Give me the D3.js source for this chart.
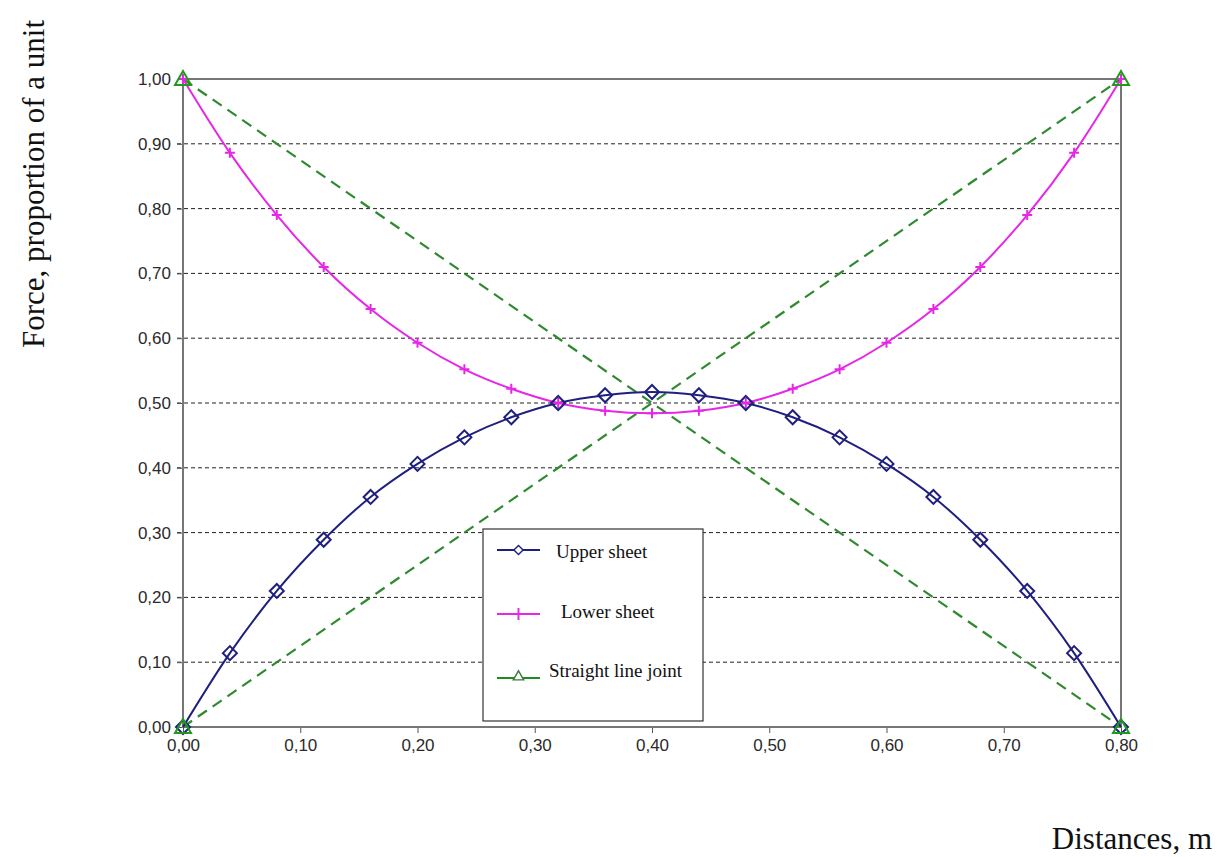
<!DOCTYPE html>
<html>
<head>
<meta charset="utf-8">
<style>
    body { margin: 0; background: #fff; }
    svg { display: block; }
    .tick text { font-family: Arial, "Liberation Sans", sans-serif; font-size: 17px; fill: #2a2a2a; }
    .axis .domain { display: none; }
    .serif { font-family: "Times New Roman", "Liberation Serif", serif; fill: #111; }
</style>
</head>
<body>
<svg width="1219" height="857"></svg>
<script src="https://d3js.org/d3.v7.min.js"></script>
<script>
// distances along the joint, m
let distances = [0, 0.04, 0.08, 0.12, 0.16, 0.20, 0.24, 0.28, 0.32, 0.36, 0.40,
                 0.44, 0.48, 0.52, 0.56, 0.60, 0.64, 0.68, 0.72, 0.76, 0.80];
let upperSheet = [0, 0.114, 0.21, 0.289, 0.355, 0.406, 0.447, 0.478, 0.50, 0.512, 0.517,
                  0.512, 0.50, 0.478, 0.447, 0.406, 0.355, 0.289, 0.21, 0.114, 0];
let lowerSheet = [1.00, 0.886, 0.79, 0.71, 0.645, 0.593, 0.552, 0.522, 0.50, 0.488, 0.484,
                  0.488, 0.50, 0.522, 0.552, 0.593, 0.645, 0.71, 0.79, 0.886, 1.00];
// straight line joint: two lines, end points only
let straightUp = [[0, 0], [0.8, 1]];
let straightDown = [[0, 1], [0.8, 0]];
let xTicks = [0, 0.1, 0.2, 0.3, 0.4, 0.5, 0.6, 0.7, 0.8];
let yTicks = [0, 0.1, 0.2, 0.3, 0.4, 0.5, 0.6, 0.7, 0.8, 0.9, 1.0];
let legendNames = ["Upper sheet", "Lower sheet", "Straight line joint"];

let colUpper = "#1f1f80", colLower = "#e628e6", colGreen = "#2f8a2f";

let svg = d3.select("svg");
let plot = { left: 183, right: 1121, top: 79, bottom: 727 };

let x = d3.scaleLinear().domain([0, 0.8]).range([plot.left, plot.right]);
let y = d3.scaleLinear().domain([0, 1]).range([plot.bottom, plot.top]);
let fmt = d => d3.format(".2f")(d).replace(".", ",");

// horizontal dashed grid
svg.append("g")
    .selectAll("line")
    .data(yTicks.filter(d => d > 0 && d < 1))
    .join("line")
    .attr("x1", plot.left - 6).attr("x2", plot.right)
    .attr("y1", d => y(d)).attr("y2", d => y(d))
    .attr("stroke", "#222").attr("stroke-width", 1)
    .attr("stroke-dasharray", "4,3");

// axes
let yAxis = svg.append("g").attr("class", "axis")
    .attr("transform", `translate(${plot.left},0)`)
    .call(d3.axisLeft(y).tickValues(yTicks).tickFormat(fmt).tickSize(6).tickPadding(6));
yAxis.selectAll(".tick line").attr("stroke", "#555");

let xAxis = svg.append("g").attr("class", "axis")
    .attr("transform", `translate(0,${plot.bottom})`)
    .call(d3.axisBottom(x).tickValues(xTicks).tickFormat(fmt).tickSize(6).tickPadding(6));
xAxis.selectAll(".tick line").attr("stroke", "#555");

// plot frame
svg.append("rect")
    .attr("x", plot.left).attr("y", plot.top)
    .attr("width", plot.right - plot.left).attr("height", plot.bottom - plot.top)
    .attr("fill", "none").attr("stroke", "#777").attr("stroke-width", 2);

// straight line joint
let lin = d3.line().x(d => x(d[0])).y(d => y(d[1]));
[straightUp, straightDown].forEach(s => {
    svg.append("path").attr("d", lin(s))
        .attr("fill", "none").attr("stroke", colGreen)
        .attr("stroke-width", 2.2).attr("stroke-dasharray", "11,7");
});

// curves
let curve = d3.line().x((d, i) => x(distances[i])).y(d => y(d)).curve(d3.curveMonotoneX);

svg.append("path").attr("d", curve(lowerSheet))
    .attr("fill", "none").attr("stroke", colLower).attr("stroke-width", 2);
svg.append("path").attr("d", curve(upperSheet))
    .attr("fill", "none").attr("stroke", colUpper).attr("stroke-width", 2);

// markers
let plusPath = "M-5,0H5M0,-5V5";
let diamondPath = "M0,-7L7,0L0,7L-7,0Z";
let triPath = "M0,-8L8,6H-8Z";

svg.append("g").selectAll("path")
    .data(lowerSheet)
    .join("path")
    .attr("transform", (d, i) => `translate(${x(distances[i])},${y(d)})`)
    .attr("d", plusPath).attr("stroke", colLower).attr("stroke-width", 2);

svg.append("g").selectAll("path")
    .data(upperSheet)
    .join("path")
    .attr("transform", (d, i) => `translate(${x(distances[i])},${y(d)})`)
    .attr("d", diamondPath).attr("fill", "none")
    .attr("stroke", colUpper).attr("stroke-width", 2);

svg.append("g").selectAll("path")
    .data(straightUp.concat(straightDown))
    .join("path")
    .attr("transform", d => `translate(${x(d[0])},${y(d[1])})`)
    .attr("d", triPath).attr("fill", "none")
    .attr("stroke", "#1f9a1f").attr("stroke-width", 2);

// legend
let lg = svg.append("g");
lg.append("rect").attr("x", 483).attr("y", 529).attr("width", 220).attr("height", 192)
    .attr("fill", "#fff").attr("stroke", "#333").attr("stroke-width", 1.2);

let legendCols = [colUpper, colLower, "#1e8c1e"];
let legendMarks = [diamondPath, plusPath, triPath];
let legendY = [550, 614, 678];
let legendTextX = [556, 561, 549];
let legendTextY = [558, 618, 677];

legendNames.forEach((name, i) => {
    lg.append("line").attr("x1", 497).attr("x2", 540)
        .attr("y1", legendY[i]).attr("y2", legendY[i])
        .attr("stroke", legendCols[i]).attr("stroke-width", 2);
    lg.append("path")
        .attr("transform", `translate(518.5,${legendY[i] - (i == 2 ? 2 : 0)}) scale(${i == 1 ? 1.2 : 0.65})`)
        .attr("d", legendMarks[i])
        .attr("fill", i == 1 ? "none" : "#fff")
        .attr("stroke", i == 2 ? "#3a7a3a" : legendCols[i])
        .attr("stroke-width", i == 1 ? 1.6 : 2.2);
    lg.append("text").attr("class", "serif")
        .attr("x", legendTextX[i]).attr("y", legendTextY[i])
        .attr("font-size", 19).text(name);
});

// axis titles
svg.append("text").attr("class", "serif")
    .attr("transform", "translate(44,184) rotate(-90)")
    .attr("text-anchor", "middle").attr("font-size", 31)
    .text("Force, proportion of a unit");

svg.append("text").attr("class", "serif")
    .attr("x", 1212).attr("y", 849)
    .attr("text-anchor", "end").attr("font-size", 31)
    .text("Distances, m");
</script>
</body>
</html>
